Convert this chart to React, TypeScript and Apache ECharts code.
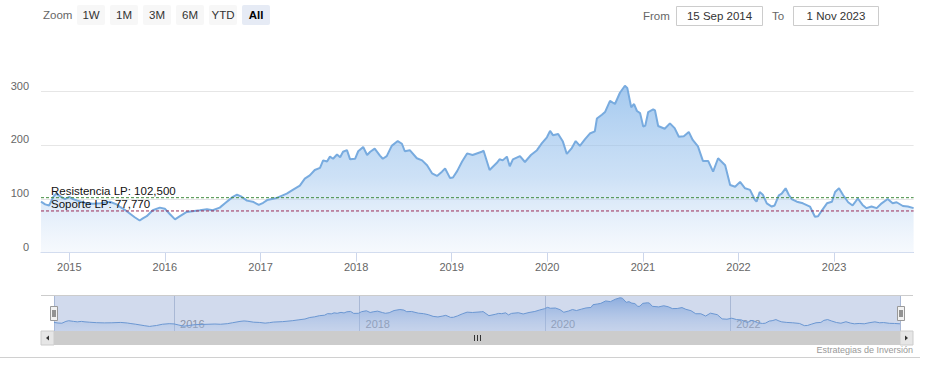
import React, { useEffect, useRef } from 'react';
import * as echarts from 'echarts';

const dates: string[] = [
  '2014-09-15','2014-10-01','2014-10-16','2014-11-01','2014-11-12','2014-12-01','2014-12-16',
  '2015-01-01','2015-01-15','2015-02-01','2015-03-01','2015-04-01','2015-05-01','2015-06-05','2015-07-01','2015-07-12','2015-08-01','2015-08-20','2015-09-08','2015-09-27','2015-10-09','2015-10-24','2015-11-16','2015-12-13',
  '2016-01-01','2016-01-20','2016-02-09','2016-02-28','2016-03-25','2016-05-14','2016-06-10','2016-07-02','2016-07-29','2016-08-18','2016-09-17','2016-10-03','2016-10-18','2016-11-10','2016-12-02','2016-12-25',
  '2017-01-11','2017-01-26','2017-03-04','2017-04-11','2017-05-04','2017-05-31','2017-06-19','2017-07-08','2017-07-27','2017-08-16','2017-08-28','2017-09-12','2017-09-23','2017-10-05','2017-10-20','2017-11-01','2017-11-12','2017-11-27','2017-12-09','2017-12-28',
  '2018-01-09','2018-01-28','2018-02-12','2018-02-24','2018-03-13','2018-04-02','2018-04-13','2018-04-28','2018-05-17','2018-06-09','2018-06-25','2018-07-06','2018-07-25','2018-08-21','2018-09-10','2018-09-29','2018-10-18','2018-11-06','2018-11-25','2018-12-07','2018-12-26',
  '2019-01-06','2019-01-22','2019-02-10','2019-03-01','2019-03-22','2019-04-26','2019-05-03','2019-05-26','2019-06-22','2019-07-03','2019-07-15','2019-07-31','2019-08-11','2019-08-23','2019-09-19','2019-10-08','2019-10-31','2019-11-23','2019-12-12','2019-12-31',
  '2020-01-12','2020-01-23','2020-02-12','2020-03-01','2020-03-16','2020-04-04','2020-04-19','2020-05-05','2020-05-24','2020-06-12','2020-07-01','2020-07-09','2020-07-28','2020-08-09','2020-08-28','2020-09-16','2020-10-05','2020-10-24','2020-11-02','2020-11-17','2020-11-28','2020-12-09','2020-12-21',
  '2021-01-02','2021-01-10','2021-01-21','2021-02-09','2021-02-16','2021-02-28','2021-03-25','2021-04-14','2021-05-02','2021-05-18','2021-06-06','2021-06-25','2021-07-10','2021-07-30','2021-08-18','2021-09-07','2021-09-26','2021-10-15','2021-11-11','2021-11-30','2021-12-19',
  '2022-01-07','2022-01-26','2022-02-14','2022-03-04','2022-03-11','2022-03-23','2022-04-04','2022-04-19','2022-05-08','2022-05-19','2022-06-04','2022-06-15','2022-06-30','2022-07-12','2022-07-23','2022-08-12','2022-09-04','2022-10-01','2022-10-20','2022-11-01','2022-11-16','2022-12-05','2022-12-24',
  '2023-01-05','2023-01-20','2023-02-05','2023-02-24','2023-03-13','2023-04-02','2023-04-20','2023-05-05','2023-05-24','2023-06-13','2023-07-02','2023-07-25','2023-08-13','2023-08-28','2023-09-21','2023-10-10','2023-11-01'
];

const prices: number[] = [
  95,90,88,104,110,104,100,
  104,100,97,93,91,92,95,90,86,80,73,66,60,64,68,79,84,
  82,72,62,68,76,79,81,79,84,92,104,108,105,97,95,89,
  93,98,102,110,117,125,138,144,154,158,172,170,179,175,183,178,188,191,174,175,
  189,197,182,188,194,181,175,180,199,208,203,189,191,176,172,163,148,143,151,157,139,
  140,152,170,185,182,188,190,154,167,174,172,179,161,174,180,169,182,191,204,215,
  227,219,221,207,184,195,208,199,211,222,226,250,257,262,283,277,298,311,307,271,277,264,260,
  235,237,262,267,265,236,231,241,232,216,217,225,210,198,171,171,151,176,163,126,123,
  132,120,117,99,95,113,108,92,86,88,107,110,120,108,100,95,92,86,67,68,79,92,95,
  113,120,107,94,88,101,89,83,86,83,92,100,92,94,87,86,83
];

const levelNames: string[] = ['Resistencia LP', 'Soporte LP'];
const levelValues: number[] = [102.5, 77.77];
const levelColors: string[] = ['#418c3e', '#9b2a55'];
const rangeButtons: string[] = ['1W', '1M', '3M', '6M', 'YTD', 'All'];
const selectedButton = 'All';
const fromLabel = '15 Sep 2014';
const toLabel = '1 Nov 2023';
const credits = 'Estrategias de Inversión';

const FONT = '"Liberation Sans", Arial, sans-serif';
const DAY = 86400000;

function toTime(s: string): number {
  const [y, m, d] = s.split('-').map(Number);
  return Date.UTC(y, m - 1, d);
}

function yearOnly(v: number, step: number): string {
  const d = new Date(v);
  if (d.getUTCMonth() === 0 && d.getUTCDate() === 1 && d.getUTCFullYear() % step === 0) return String(d.getUTCFullYear());
  return '';
}

export default function App() {
  const ref = useRef<HTMLDivElement>(null);
  useEffect(() => {
    if (!ref.current) return;
    const chart = echarts.init(ref.current, undefined, { renderer: 'svg' });
    const data = dates.map((d, i) => [toTime(d), prices[i]]);
    const tMin = toTime(dates[0]);
    const tMax = toTime(dates[dates.length - 1]);

    const graphics: any[] = [];
    graphics.push({ type: 'text', x: 43, y: 15, style: { text: 'Zoom', fill: '#666', font: `11.5px ${FONT}`, verticalAlign: 'middle' } });
    rangeButtons.forEach((b, i) => {
      const x = 77 + i * 33;
      const sel = b === selectedButton;
      graphics.push({ type: 'rect', shape: { x, y: 5, width: 28, height: 20, r: 2 }, style: { fill: sel ? '#e6ebf5' : '#f7f7f7' } });
      graphics.push({ type: 'text', x: x + 14, y: 15, style: { text: b, fill: sel ? '#000' : '#333', font: `${sel ? 'bold ' : ''}11.5px ${FONT}`, align: 'center', verticalAlign: 'middle' } });
    });
    graphics.push({ type: 'text', x: 643, y: 15.5, style: { text: 'From', fill: '#666', font: `11.5px ${FONT}`, verticalAlign: 'middle' } });
    graphics.push({ type: 'rect', shape: { x: 676.5, y: 6.5, width: 86, height: 19 }, style: { fill: '#fff', stroke: '#cccccc', lineWidth: 1 } });
    graphics.push({ type: 'text', x: 719.5, y: 16, style: { text: fromLabel, fill: '#333', font: `11.5px ${FONT}`, align: 'center', verticalAlign: 'middle' } });
    graphics.push({ type: 'text', x: 772, y: 15.5, style: { text: 'To', fill: '#666', font: `11.5px ${FONT}`, verticalAlign: 'middle' } });
    graphics.push({ type: 'rect', shape: { x: 793.5, y: 6.5, width: 85, height: 19 }, style: { fill: '#fff', stroke: '#cccccc', lineWidth: 1 } });
    graphics.push({ type: 'text', x: 836, y: 16, style: { text: toLabel, fill: '#333', font: `11.5px ${FONT}`, align: 'center', verticalAlign: 'middle' } });

    graphics.push({ type: 'rect', z: 20, shape: { x: 54, y: 295, width: 847, height: 36 }, style: { fill: 'rgba(102,133,194,0.3)' } });
    graphics.push({ type: 'line', z: 21, shape: { x1: 41, y1: 295.5, x2: 913, y2: 295.5 }, style: { stroke: '#cccccc', lineWidth: 1 } });
    [50.5, 897.5].forEach((hx) => {
      graphics.push({ type: 'rect', z: 22, shape: { x: hx, y: 306.5, width: 7, height: 14 }, style: { fill: '#f2f2f2', stroke: '#999999', lineWidth: 1 } });
      graphics.push({ type: 'line', z: 23, shape: { x1: hx + 2.5, y1: 310, x2: hx + 2.5, y2: 317 }, style: { stroke: '#333', lineWidth: 1 } });
      graphics.push({ type: 'line', z: 23, shape: { x1: hx + 4.5, y1: 310, x2: hx + 4.5, y2: 317 }, style: { stroke: '#333', lineWidth: 1 } });
    });
    graphics.push({ type: 'rect', z: 20, shape: { x: 41, y: 331, width: 872, height: 14 }, style: { fill: '#f2f2f2' } });
    graphics.push({ type: 'rect', z: 21, shape: { x: 54, y: 331, width: 846, height: 14 }, style: { fill: '#cccccc' } });
    graphics.push({ type: 'rect', z: 21, shape: { x: 41, y: 331, width: 13, height: 14 }, style: { fill: '#e6e6e6', stroke: '#cccccc', lineWidth: 1 } });
    graphics.push({ type: 'rect', z: 21, shape: { x: 900, y: 331, width: 13, height: 14 }, style: { fill: '#e6e6e6', stroke: '#cccccc', lineWidth: 1 } });
    graphics.push({ type: 'polygon', z: 22, shape: { points: [[46, 338], [49, 335.5], [49, 340.5]] }, style: { fill: '#333' } });
    graphics.push({ type: 'polygon', z: 22, shape: { points: [[908, 338], [905, 335.5], [905, 340.5]] }, style: { fill: '#333' } });
    [474.5, 477.5, 480.5].forEach((gx) => {
      graphics.push({ type: 'line', z: 22, shape: { x1: gx, y1: 335, x2: gx, y2: 341 }, style: { stroke: '#333', lineWidth: 1 } });
    });
    graphics.push({ type: 'text', z: 22, x: 913, y: 350, style: { text: credits, fill: '#999', font: `9px ${FONT}`, align: 'right', verticalAlign: 'middle' } });
    graphics.push({ type: 'line', z: 22, shape: { x1: 0, y1: 357.5, x2: 920, y2: 357.5 }, style: { stroke: '#d0d0d0', lineWidth: 1 } });

    const levelSeries = levelValues.map((v, i) => ({
      type: 'line', name: levelNames[i], xAxisIndex: 0, yAxisIndex: 0, silent: true, z: 5,
      data: [[tMin, v], [tMax, v]],
      symbol: 'none', showSymbol: false,
      color: levelColors[i],
      lineStyle: { color: levelColors[i], type: [3, 2], width: 1 },
      markPoint: {
        silent: true,
        symbol: 'rect', symbolSize: 0.01,
        itemStyle: { color: 'rgba(0,0,0,0)' },
        label: {
          show: true, position: 'right', distance: 10, offset: [0, i === 0 ? -7 : -6.5],
          color: '#111', fontSize: 11.5, fontFamily: FONT,
          formatter: `${levelNames[i]}: ${v.toFixed(3).replace('.', ',')}`,
        },
        data: [{ coord: [tMin, v] }],
      },
    }));

    const option: any = {
      animation: false,
      useUTC: true,
      backgroundColor: '#fff',
      grid: [
        { left: 41, right: 13.4, top: 38, bottom: 115.3 },
        { left: 54, right: 27, top: 295, height: 36 },
      ],
      xAxis: [
        {
          type: 'time', gridIndex: 0, min: tMin, max: tMax,
          splitNumber: 10, minInterval: 365 * DAY, maxInterval: 366 * DAY,
          axisLine: { lineStyle: { color: '#ccd6eb' } },
          axisTick: { show: true, length: 9, lineStyle: { color: '#ccd6eb' } },
          axisLabel: { color: '#666', fontSize: 11, fontFamily: FONT, margin: 9, formatter: (v: number) => yearOnly(v, 1) },
          splitLine: { show: false },
        },
        {
          type: 'time', gridIndex: 1, min: tMin, max: tMax,
          splitNumber: 5, minInterval: 2 * 365 * DAY, maxInterval: 2 * 366 * DAY,
          axisLine: { show: false },
          axisTick: { show: false },
          axisLabel: { inside: true, align: 'left', padding: [0, 0, 0, 6], color: '#999', fontSize: 11, fontFamily: FONT, margin: 2, formatter: (v: number) => yearOnly(v, 2) },
          splitLine: { show: true, lineStyle: { color: '#c6cfdd', width: 1 } },
        },
      ],
      yAxis: [
        {
          type: 'value', gridIndex: 0, min: 0, max: 400, interval: 100,
          axisLine: { show: false }, axisTick: { show: false },
          axisLabel: { color: '#666', fontSize: 11, fontFamily: FONT, margin: 12, showMaxLabel: false, verticalAlign: 'bottom', lineHeight: 12 },
          splitLine: { show: true, showMaxLine: false, lineStyle: { color: '#e6e6e6' } },
        },
        {
          type: 'value', gridIndex: 1, min: 20, max: 335, show: false,
          splitLine: { show: false },
        },
      ],
      series: [
        {
          type: 'line', xAxisIndex: 0, yAxisIndex: 0, data, showSymbol: false, symbol: 'none',
          lineStyle: { color: '#78abdf', width: 2 },
          areaStyle: {
            color: new echarts.graphic.LinearGradient(0, 0, 0, 1, [
              { offset: 0, color: 'rgba(124,177,232,0.98)' },
              { offset: 0.55, color: 'rgba(160,198,238,0.75)' },
              { offset: 1, color: 'rgba(230,239,250,0.5)' },
            ]),
          },
        },
        ...levelSeries,
        {
          type: 'line', xAxisIndex: 1, yAxisIndex: 1, data, showSymbol: false, symbol: 'none',
          lineStyle: { color: '#6d9fd8', width: 1 },
          areaStyle: {
            color: new echarts.graphic.LinearGradient(0, 0, 0, 1, [
              { offset: 0, color: 'rgba(110,160,225,0.95)' },
              { offset: 1, color: 'rgba(200,220,245,0.4)' },
            ]),
          },
        },
      ],
      graphic: graphics,
    };
    chart.setOption(option);
    return () => chart.dispose();
  }, []);
  return <div ref={ref} style={{ position: 'fixed', left: 0, top: 0, width: 927, height: 368 }} />;
}
